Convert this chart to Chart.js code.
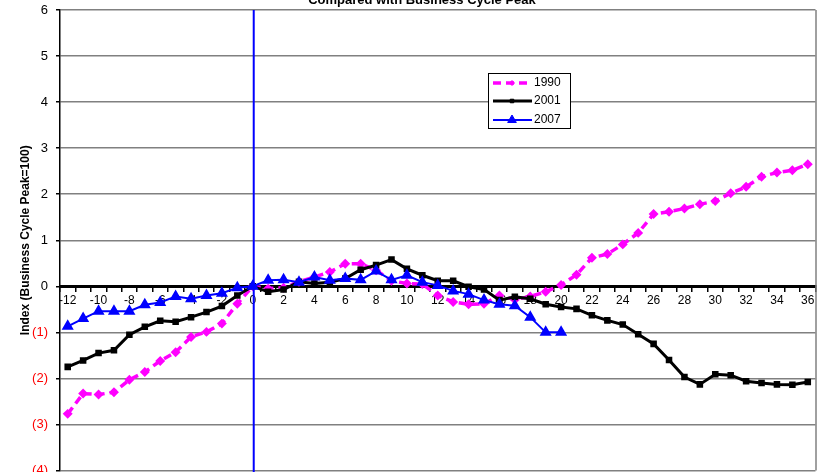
<!DOCTYPE html>
<html>
<head>
<meta charset="utf-8">
<script src="https://cdn.jsdelivr.net/npm/chart.js@4/dist/chart.umd.min.js"></script>
<style>
html,body{margin:0;padding:0;background:#fff;overflow:hidden;}
#wrap{position:relative;width:823px;height:472px;overflow:hidden;}
canvas{display:block;}
</style>
</head>
<body>
<div id="wrap"><canvas id="c" width="823" height="478"></canvas></div>
<script>
const months = [-12,-11,-10,-9,-8,-7,-6,-5,-4,-3,-2,-1,0,1,2,3,4,5,6,7,8,9,10,11,12,13,14,15,16,17,18,19,20,21,22,23,24,25,26,27,28,29,30,31,32,33,34,35,36];
const s1990 = [-2.77,-2.33,-2.35,-2.30,-2.03,-1.86,-1.62,-1.43,-1.10,-0.99,-0.81,-0.38,0,-0.05,-0.03,0.10,0.20,0.31,0.49,0.49,0.35,0.12,0.06,0.05,-0.20,-0.34,-0.39,-0.38,-0.20,-0.29,-0.22,-0.12,0.03,0.25,0.62,0.70,0.91,1.16,1.57,1.62,1.69,1.78,1.85,2.02,2.16,2.38,2.47,2.52,2.65];
const s2001 = [-1.75,-1.61,-1.45,-1.39,-1.05,-0.88,-0.75,-0.77,-0.67,-0.56,-0.43,-0.20,0,-0.12,-0.07,0.10,0.06,0.09,0.17,0.36,0.46,0.58,0.38,0.24,0.12,0.12,-0.01,-0.07,-0.30,-0.23,-0.27,-0.39,-0.45,-0.49,-0.63,-0.74,-0.83,-1.04,-1.25,-1.60,-1.97,-2.13,-1.91,-1.93,-2.06,-2.10,-2.13,-2.14,-2.08];
const s2007 = [-0.87,-0.70,-0.54,-0.54,-0.54,-0.40,-0.35,-0.22,-0.27,-0.20,-0.15,-0.03,0,0.13,0.14,0.09,0.20,0.13,0.17,0.14,0.33,0.14,0.24,0.09,0.02,-0.10,-0.17,-0.30,-0.39,-0.42,-0.67,-1.00,-1.00];
const seriesNames = ['1990','2001','2007'];
const titleText = 'Compared with Business Cycle Peak';
const yTitle = 'Index (Business Cycle Peak=100)';
const peakMonth = 0;

const FONT = 'Arial, "Liberation Sans", sans-serif';

const extras = {
  id: 'extras',
  beforeDatasetsDraw(chart) {
    const {ctx, chartArea} = chart;
    ctx.save();
    ctx.strokeStyle = '#808080';
    ctx.lineWidth = 1.5;
    ctx.beginPath();
    ctx.moveTo(chartArea.right + 0.5, chartArea.top);
    ctx.lineTo(chartArea.right + 0.5, chartArea.bottom);
    ctx.stroke();
    ctx.restore();
  },
  afterDatasetsDraw(chart) {
    const {ctx, chartArea, scales} = chart;
    const x = scales.x.getPixelForValue(months.indexOf(peakMonth));
    ctx.save();
    ctx.strokeStyle = '#0000FF';
    ctx.lineWidth = 2;
    ctx.beginPath();
    ctx.moveTo(x + 1, chartArea.top);
    ctx.lineTo(x + 1, chartArea.bottom + 2);
    ctx.stroke();
    // title (partially cut off at top)
    ctx.fillStyle = '#000';
    ctx.font = 'bold 13px ' + FONT;
    ctx.textAlign = 'center';
    ctx.textBaseline = 'alphabetic';
    ctx.fillText(titleText, 422, 4);
    // legend
    const lx = 488, ly = 73, lw = 82, lh = 55;
    ctx.fillStyle = '#fff';
    ctx.fillRect(lx, ly, lw, lh);
    ctx.strokeStyle = '#000';
    ctx.lineWidth = 1;
    ctx.strokeRect(lx + 0.5, ly + 0.5, lw, lh);
    const rows = [83, 101, 120];
    chart.data.datasets.forEach((ds, i) => {
      const y = rows[i];
      ctx.save();
      ctx.strokeStyle = ds.borderColor;
      ctx.lineWidth = ds.borderWidth;
      ctx.setLineDash(ds.borderDash || []);
      ctx.beginPath();
      ctx.moveTo(493, y);
      ctx.lineTo(532, y);
      ctx.stroke();
      ctx.restore();
      ctx.fillStyle = ds.pointBackgroundColor;
      ctx.strokeStyle = ds.pointBorderColor;
      Chart.helpers.drawPoint(ctx, {pointStyle: ds.pointStyle, radius: ds.pointRadius, borderWidth: 1, rotation: 0}, 512, y);
      ctx.fillStyle = '#000';
      ctx.font = '12px ' + FONT;
      ctx.textAlign = 'left';
      ctx.textBaseline = 'middle';
      ctx.fillText(ds.label, 534, y);
    });
    ctx.restore();
  }
};

new Chart(document.getElementById('c'), {
  type: 'line',
  data: {
    labels: months.map(String),
    datasets: [
      {label: seriesNames[0], data: s1990, borderColor: '#FF00FF', backgroundColor: '#FF00FF', borderWidth: 3.5, borderDash: [8, 5], pointStyle: 'rectRot', pointRadius: 2.5, pointBackgroundColor: '#FF00FF', pointBorderColor: '#FF00FF', tension: 0, order: 3},
      {label: seriesNames[1], data: s2001, borderColor: '#000000', backgroundColor: '#000000', borderWidth: 3, pointStyle: 'rect', pointRadius: 2.5, pointBackgroundColor: '#000000', pointBorderColor: '#000000', tension: 0, order: 2},
      {label: seriesNames[2], data: s2007, borderColor: '#0000FF', backgroundColor: '#0000FF', borderWidth: 2, pointStyle: 'triangle', pointRadius: 5, pointBackgroundColor: '#0000FF', pointBorderColor: '#0000FF', tension: 0, order: 1}
    ]
  },
  options: {
    responsive: false,
    animation: false,
    devicePixelRatio: 1,
    layout: {padding: {top: 10, right: 3, bottom: 2, left: 0}},
    plugins: {legend: {display: false}, tooltip: {enabled: false}, title: {display: false}},
    scales: {
      x: {
        type: 'category',
        position: {y: 0},
        offset: true,
        afterFit(scale) { scale.height = 0; scale.paddingLeft = 0; scale.paddingRight = 0; scale.paddingTop = 0; scale.paddingBottom = 0; },
        grid: {display: true, drawOnChartArea: false, drawTicks: true, tickLength: 4, color: '#000', offset: true, lineWidth: 1.5},
        border: {display: true, color: '#000', width: 3},
        ticks: {
          autoSkip: false, maxRotation: 0, padding: 3, color: '#000',
          font: {family: FONT, size: 12},
          callback: function(v, i) { const m = months[i]; return (m % 2 === 0) ? String(m) : ''; }
        }
      },
      y: {
        min: -4, max: 6,
        afterFit(scale) { scale.width = 60; scale.paddingTop = 0; scale.paddingBottom = 0; },
        grid: {color: '#808080', lineWidth: 1.5, drawTicks: true, tickLength: 4, tickColor: '#000'},
        border: {display: true, color: '#000', width: 1.5},
        ticks: {
          stepSize: 1, padding: 8,
          font: {family: FONT, size: 13},
          color: (c) => c.tick && c.tick.value < 0 ? '#FF0000' : '#000',
          callback: (v) => v < 0 ? '(' + Math.abs(v) + ')' : String(v)
        },
        title: {display: true, text: yTitle, color: '#000', font: {family: FONT, size: 12, weight: 'bold'}, padding: {top: 18, bottom: 0}}
      }
    }
  },
  plugins: [extras]
});
</script>
</body>
</html>
